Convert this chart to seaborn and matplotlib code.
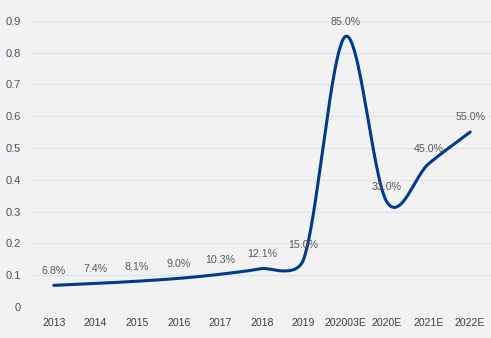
import numpy as np
import pandas as pd
import matplotlib
matplotlib.use("Agg")
import matplotlib.pyplot as plt
import seaborn as sns

categories = ["2013", "2014", "2015", "2016", "2017", "2018", "2019",
              "202003E", "2020E", "2021E", "2022E"]
values = [0.068, 0.074, 0.081, 0.090, 0.103, 0.121, 0.150,
          0.850, 0.330, 0.450, 0.550]
labels = ["6.8%", "7.4%", "8.1%", "9.0%", "10.3%", "12.1%", "15.0%",
          "85.0%", "33.0%", "45.0%", "55.0%"]
yticks = [0, 0.1, 0.2, 0.3, 0.4, 0.5, 0.6, 0.7, 0.8, 0.9]
ytick_labels = ["0", "0.1", "0.2", "0.3", "0.4", "0.5", "0.6", "0.7", "0.8", "0.9"]

BG = "#F2F2F2"
LINE = "#003A8F"
TEXT = "#595959"
YTEXT = "#44546A"
XTEXT = "#404040"
GRID = "#DFE5EC"

sns.set_theme(style="white")
plt.rcParams["font.family"] = ["Liberation Sans", "DejaVu Sans"]

# Excel-style smoothed line, computed in display-like units
SX, SY = 41.6, 319.0
pts = np.column_stack([np.arange(len(values), dtype=float) * SX,
                       np.array(values) * SY])


def controls(p0, p1, p2, p3):
    d = lambda a, b: float(np.hypot(*(a - b)))
    d02, d12, d13 = d(p0, p2), d(p1, p2), d(p1, p3)
    f = 1.0 / 6.0
    if d02 / 6 < d12 / 2 and d13 / 6 < d12 / 2:
        f1 = f if d(p0, p1) > 0 else 1.0 / 3.0
        f2 = f if d(p2, p3) > 0 else 1.0 / 3.0
        return p1 + (p2 - p0) * f1, p2 - (p3 - p1) * f2
    if d02 / 6 >= d12 / 2 and d13 / 6 >= d12 / 2:
        return p1 + (p2 - p0) * (d12 / 2 / d02), p2 - (p3 - p1) * (d12 / 2 / d13)
    if d02 / 6 >= d12 / 2:
        return p1 + (p2 - p0) * (d12 / 2 / d02), p2 - (p3 - p1) * (d12 / 2 / d02)
    return p1 + (p2 - p0) * (d12 / 2 / d13), p2 - (p3 - p1) * (d12 / 2 / d13)


t = np.linspace(0, 1, 50)
xs, ys = [], []
n = len(pts)
for i in range(n - 1):
    p0 = pts[max(i - 1, 0)]
    p1 = pts[i]
    p2 = pts[i + 1]
    p3 = pts[min(i + 2, n - 1)]
    c1, c2 = controls(p0, p1, p2, p3)
    b = ((1 - t) ** 3)[:, None] * p1 + (3 * (1 - t) ** 2 * t)[:, None] * c1 \
        + (3 * (1 - t) * t ** 2)[:, None] * c2 + (t ** 3)[:, None] * p2
    xs.extend(b[:, 0] / SX)
    ys.extend(b[:, 1] / SY)
curve = pd.DataFrame({"x": xs, "y": ys})

fig = plt.figure(figsize=(4.91, 3.38), dpi=100, facecolor=BG)
ax = fig.add_axes([33 / 491, 31 / 338, 458 / 491, 286.3 / 338])
ax.set_facecolor(BG)

sns.lineplot(data=curve, x="x", y="y", sort=False, estimator=None,
             color=LINE, linewidth=2.2, ax=ax)

for i, (v, lab) in enumerate(zip(values, labels)):
    ax.annotate(lab, (i, v), xytext=(0, 10.5), textcoords="offset points",
                ha="center", va="center", fontsize=7.7, color=TEXT)

ax.set_xlim(-0.5, len(categories) - 0.5)
ax.set_ylim(0, 0.9)
ax.set_xticks(range(len(categories)))
ax.set_xticklabels(categories)
ax.set_yticks(yticks)
ax.set_yticklabels(ytick_labels)
ax.tick_params(axis="both", length=0)
ax.tick_params(axis="y", pad=9, labelsize=8, colors=YTEXT)
ax.tick_params(axis="x", pad=8, labelsize=7.6, colors=XTEXT)
ax.set_xlabel("")
ax.set_ylabel("")
ax.grid(axis="y", color=GRID, linewidth=1.0)
ax.grid(axis="x", visible=False)
ax.set_axisbelow(True)
for s in ax.spines.values():
    s.set_visible(False)

fig.savefig("out.png", dpi=100, facecolor=BG)
